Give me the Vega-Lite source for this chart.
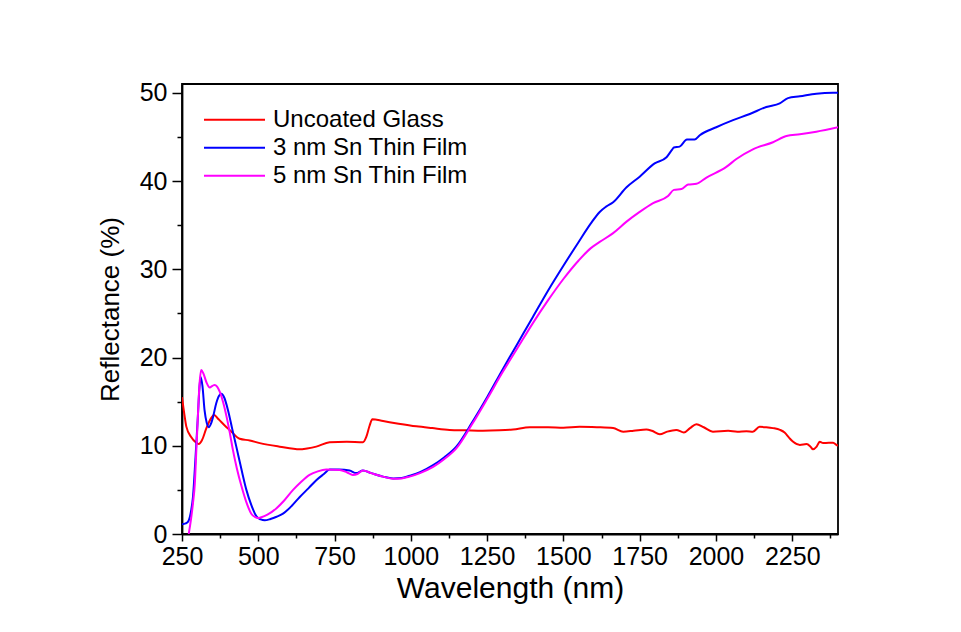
{
  "$schema": "https://vega.github.io/schema/vega-lite/v6.json",
  "autosize": "none",
  "width": 656,
  "height": 450,
  "padding": {"left": 182, "top": 84, "right": 123, "bottom": 98},
  "background": "white",
  "config": {
    "font": "Liberation Sans",
    "view": {"stroke": "black", "strokeWidth": 1.8},
    "axis": {
      "domainColor": "black",
      "domainWidth": 1.8,
      "tickColor": "black",
      "tickWidth": 1.5,
      "labelColor": "black",
      "titleColor": "black",
      "labelFont": "Liberation Sans",
      "titleFont": "Liberation Sans",
      "titleFontWeight": "normal",
      "grid": false
    }
  },
  "data": {
    "values": [
      {"series": "Uncoated Glass", "wl": 250, "r": 15.5},
      {"series": "Uncoated Glass", "wl": 258, "r": 13.5},
      {"series": "Uncoated Glass", "wl": 264, "r": 12.2},
      {"series": "Uncoated Glass", "wl": 280, "r": 11.0},
      {"series": "Uncoated Glass", "wl": 295, "r": 10.4},
      {"series": "Uncoated Glass", "wl": 305, "r": 10.2},
      {"series": "Uncoated Glass", "wl": 315, "r": 10.6},
      {"series": "Uncoated Glass", "wl": 330, "r": 12.0},
      {"series": "Uncoated Glass", "wl": 345, "r": 13.1},
      {"series": "Uncoated Glass", "wl": 355, "r": 13.5},
      {"series": "Uncoated Glass", "wl": 370, "r": 13.0},
      {"series": "Uncoated Glass", "wl": 390, "r": 12.3},
      {"series": "Uncoated Glass", "wl": 406, "r": 11.8},
      {"series": "Uncoated Glass", "wl": 439, "r": 10.8},
      {"series": "Uncoated Glass", "wl": 472, "r": 10.6},
      {"series": "Uncoated Glass", "wl": 505, "r": 10.3},
      {"series": "Uncoated Glass", "wl": 570, "r": 9.9},
      {"series": "Uncoated Glass", "wl": 636, "r": 9.6},
      {"series": "Uncoated Glass", "wl": 660, "r": 9.7},
      {"series": "Uncoated Glass", "wl": 690, "r": 9.9},
      {"series": "Uncoated Glass", "wl": 734, "r": 10.4},
      {"series": "Uncoated Glass", "wl": 790, "r": 10.45},
      {"series": "Uncoated Glass", "wl": 843, "r": 10.4},
      {"series": "Uncoated Glass", "wl": 854, "r": 11.0},
      {"series": "Uncoated Glass", "wl": 865, "r": 12.3},
      {"series": "Uncoated Glass", "wl": 874, "r": 13.0},
      {"series": "Uncoated Glass", "wl": 909, "r": 12.8},
      {"series": "Uncoated Glass", "wl": 960, "r": 12.5},
      {"series": "Uncoated Glass", "wl": 1018, "r": 12.2},
      {"series": "Uncoated Glass", "wl": 1070, "r": 12.0},
      {"series": "Uncoated Glass", "wl": 1127, "r": 11.8},
      {"series": "Uncoated Glass", "wl": 1180, "r": 11.75},
      {"series": "Uncoated Glass", "wl": 1236, "r": 11.7},
      {"series": "Uncoated Glass", "wl": 1290, "r": 11.75},
      {"series": "Uncoated Glass", "wl": 1335, "r": 11.85},
      {"series": "Uncoated Glass", "wl": 1390, "r": 12.1},
      {"series": "Uncoated Glass", "wl": 1450, "r": 12.1},
      {"series": "Uncoated Glass", "wl": 1500, "r": 12.05},
      {"series": "Uncoated Glass", "wl": 1553, "r": 12.15},
      {"series": "Uncoated Glass", "wl": 1610, "r": 12.1},
      {"series": "Uncoated Glass", "wl": 1663, "r": 12.0},
      {"series": "Uncoated Glass", "wl": 1696, "r": 11.6},
      {"series": "Uncoated Glass", "wl": 1730, "r": 11.7},
      {"series": "Uncoated Glass", "wl": 1772, "r": 11.85},
      {"series": "Uncoated Glass", "wl": 1790, "r": 11.7},
      {"series": "Uncoated Glass", "wl": 1816, "r": 11.3},
      {"series": "Uncoated Glass", "wl": 1840, "r": 11.6},
      {"series": "Uncoated Glass", "wl": 1870, "r": 11.8},
      {"series": "Uncoated Glass", "wl": 1895, "r": 11.5},
      {"series": "Uncoated Glass", "wl": 1915, "r": 12.0},
      {"series": "Uncoated Glass", "wl": 1936, "r": 12.45},
      {"series": "Uncoated Glass", "wl": 1960, "r": 12.1},
      {"series": "Uncoated Glass", "wl": 1990, "r": 11.6},
      {"series": "Uncoated Glass", "wl": 2040, "r": 11.7},
      {"series": "Uncoated Glass", "wl": 2070, "r": 11.6},
      {"series": "Uncoated Glass", "wl": 2100, "r": 11.65},
      {"series": "Uncoated Glass", "wl": 2121, "r": 11.6},
      {"series": "Uncoated Glass", "wl": 2143, "r": 12.15},
      {"series": "Uncoated Glass", "wl": 2165, "r": 12.1},
      {"series": "Uncoated Glass", "wl": 2187, "r": 12.0},
      {"series": "Uncoated Glass", "wl": 2210, "r": 11.8},
      {"series": "Uncoated Glass", "wl": 2225, "r": 11.5},
      {"series": "Uncoated Glass", "wl": 2240, "r": 10.9},
      {"series": "Uncoated Glass", "wl": 2253, "r": 10.45},
      {"series": "Uncoated Glass", "wl": 2275, "r": 10.1},
      {"series": "Uncoated Glass", "wl": 2297, "r": 10.2},
      {"series": "Uncoated Glass", "wl": 2310, "r": 9.9},
      {"series": "Uncoated Glass", "wl": 2318, "r": 9.6},
      {"series": "Uncoated Glass", "wl": 2330, "r": 9.9},
      {"series": "Uncoated Glass", "wl": 2340, "r": 10.45},
      {"series": "Uncoated Glass", "wl": 2351, "r": 10.3},
      {"series": "Uncoated Glass", "wl": 2370, "r": 10.35},
      {"series": "Uncoated Glass", "wl": 2384, "r": 10.35},
      {"series": "Uncoated Glass", "wl": 2395, "r": 10.1},
      {"series": "Uncoated Glass", "wl": 2400, "r": 10.0},

      {"series": "3 nm Sn Thin Film", "wl": 250, "r": 1.1},
      {"series": "3 nm Sn Thin Film", "wl": 262, "r": 1.2},
      {"series": "3 nm Sn Thin Film", "wl": 270, "r": 1.4},
      {"series": "3 nm Sn Thin Film", "wl": 278, "r": 2.3},
      {"series": "3 nm Sn Thin Film", "wl": 286, "r": 4.2},
      {"series": "3 nm Sn Thin Film", "wl": 294, "r": 8.5},
      {"series": "3 nm Sn Thin Film", "wl": 302, "r": 13.3},
      {"series": "3 nm Sn Thin Film", "wl": 307, "r": 16.5},
      {"series": "3 nm Sn Thin Film", "wl": 311, "r": 17.8},
      {"series": "3 nm Sn Thin Film", "wl": 317, "r": 16.8},
      {"series": "3 nm Sn Thin Film", "wl": 324, "r": 14.0},
      {"series": "3 nm Sn Thin Film", "wl": 331, "r": 12.6},
      {"series": "3 nm Sn Thin Film", "wl": 338, "r": 12.1},
      {"series": "3 nm Sn Thin Film", "wl": 345, "r": 12.5},
      {"series": "3 nm Sn Thin Film", "wl": 352, "r": 13.3},
      {"series": "3 nm Sn Thin Film", "wl": 362, "r": 14.8},
      {"series": "3 nm Sn Thin Film", "wl": 372, "r": 15.7},
      {"series": "3 nm Sn Thin Film", "wl": 379, "r": 15.9},
      {"series": "3 nm Sn Thin Film", "wl": 388, "r": 15.5},
      {"series": "3 nm Sn Thin Film", "wl": 401, "r": 14.0},
      {"series": "3 nm Sn Thin Film", "wl": 414, "r": 12.0},
      {"series": "3 nm Sn Thin Film", "wl": 428, "r": 9.9},
      {"series": "3 nm Sn Thin Film", "wl": 445, "r": 7.3},
      {"series": "3 nm Sn Thin Film", "wl": 461, "r": 5.0},
      {"series": "3 nm Sn Thin Film", "wl": 477, "r": 3.3},
      {"series": "3 nm Sn Thin Film", "wl": 494, "r": 2.0},
      {"series": "3 nm Sn Thin Film", "wl": 508, "r": 1.65},
      {"series": "3 nm Sn Thin Film", "wl": 521, "r": 1.55},
      {"series": "3 nm Sn Thin Film", "wl": 540, "r": 1.7},
      {"series": "3 nm Sn Thin Film", "wl": 560, "r": 1.95},
      {"series": "3 nm Sn Thin Film", "wl": 581, "r": 2.3},
      {"series": "3 nm Sn Thin Film", "wl": 610, "r": 3.2},
      {"series": "3 nm Sn Thin Film", "wl": 636, "r": 4.2},
      {"series": "3 nm Sn Thin Film", "wl": 665, "r": 5.2},
      {"series": "3 nm Sn Thin Film", "wl": 690, "r": 6.1},
      {"series": "3 nm Sn Thin Film", "wl": 715, "r": 6.8},
      {"series": "3 nm Sn Thin Film", "wl": 734, "r": 7.3},
      {"series": "3 nm Sn Thin Film", "wl": 765, "r": 7.3},
      {"series": "3 nm Sn Thin Film", "wl": 799, "r": 7.2},
      {"series": "3 nm Sn Thin Film", "wl": 821, "r": 6.9},
      {"series": "3 nm Sn Thin Film", "wl": 843, "r": 7.2},
      {"series": "3 nm Sn Thin Film", "wl": 870, "r": 6.9},
      {"series": "3 nm Sn Thin Film", "wl": 909, "r": 6.5},
      {"series": "3 nm Sn Thin Film", "wl": 942, "r": 6.3},
      {"series": "3 nm Sn Thin Film", "wl": 970, "r": 6.35},
      {"series": "3 nm Sn Thin Film", "wl": 996, "r": 6.6},
      {"series": "3 nm Sn Thin Film", "wl": 1030, "r": 7.0},
      {"series": "3 nm Sn Thin Film", "wl": 1073, "r": 7.8},
      {"series": "3 nm Sn Thin Film", "wl": 1110, "r": 8.7},
      {"series": "3 nm Sn Thin Film", "wl": 1149, "r": 9.9},
      {"series": "3 nm Sn Thin Film", "wl": 1200, "r": 12.6},
      {"series": "3 nm Sn Thin Film", "wl": 1250, "r": 15.5},
      {"series": "3 nm Sn Thin Film", "wl": 1300, "r": 18.6},
      {"series": "3 nm Sn Thin Film", "wl": 1350, "r": 21.6},
      {"series": "3 nm Sn Thin Film", "wl": 1400, "r": 24.6},
      {"series": "3 nm Sn Thin Film", "wl": 1450, "r": 27.6},
      {"series": "3 nm Sn Thin Film", "wl": 1500, "r": 30.4},
      {"series": "3 nm Sn Thin Film", "wl": 1550, "r": 33.1},
      {"series": "3 nm Sn Thin Film", "wl": 1590, "r": 35.2},
      {"series": "3 nm Sn Thin Film", "wl": 1619, "r": 36.5},
      {"series": "3 nm Sn Thin Film", "wl": 1640, "r": 37.1},
      {"series": "3 nm Sn Thin Film", "wl": 1663, "r": 37.6},
      {"series": "3 nm Sn Thin Film", "wl": 1707, "r": 39.3},
      {"series": "3 nm Sn Thin Film", "wl": 1750, "r": 40.5},
      {"series": "3 nm Sn Thin Film", "wl": 1799, "r": 42.0},
      {"series": "3 nm Sn Thin Film", "wl": 1838, "r": 42.7},
      {"series": "3 nm Sn Thin Film", "wl": 1855, "r": 43.5},
      {"series": "3 nm Sn Thin Film", "wl": 1862, "r": 43.8},
      {"series": "3 nm Sn Thin Film", "wl": 1881, "r": 43.9},
      {"series": "3 nm Sn Thin Film", "wl": 1905, "r": 44.7},
      {"series": "3 nm Sn Thin Film", "wl": 1930, "r": 44.7},
      {"series": "3 nm Sn Thin Film", "wl": 1947, "r": 45.2},
      {"series": "3 nm Sn Thin Film", "wl": 2001, "r": 46.1},
      {"series": "3 nm Sn Thin Film", "wl": 2056, "r": 46.9},
      {"series": "3 nm Sn Thin Film", "wl": 2111, "r": 47.6},
      {"series": "3 nm Sn Thin Film", "wl": 2165, "r": 48.4},
      {"series": "3 nm Sn Thin Film", "wl": 2209, "r": 48.8},
      {"series": "3 nm Sn Thin Film", "wl": 2236, "r": 49.4},
      {"series": "3 nm Sn Thin Film", "wl": 2275, "r": 49.6},
      {"series": "3 nm Sn Thin Film", "wl": 2329, "r": 49.9},
      {"series": "3 nm Sn Thin Film", "wl": 2384, "r": 50.0},
      {"series": "3 nm Sn Thin Film", "wl": 2400, "r": 50.0},

      {"series": "5 nm Sn Thin Film", "wl": 272, "r": 0.0},
      {"series": "5 nm Sn Thin Film", "wl": 280, "r": 1.8},
      {"series": "5 nm Sn Thin Film", "wl": 286, "r": 3.5},
      {"series": "5 nm Sn Thin Film", "wl": 292, "r": 5.7},
      {"series": "5 nm Sn Thin Film", "wl": 297, "r": 9.5},
      {"series": "5 nm Sn Thin Film", "wl": 302, "r": 13.3},
      {"series": "5 nm Sn Thin Film", "wl": 307, "r": 16.8},
      {"series": "5 nm Sn Thin Film", "wl": 313, "r": 18.6},
      {"series": "5 nm Sn Thin Film", "wl": 320, "r": 18.2},
      {"series": "5 nm Sn Thin Film", "wl": 330, "r": 17.2},
      {"series": "5 nm Sn Thin Film", "wl": 341, "r": 16.6},
      {"series": "5 nm Sn Thin Film", "wl": 350, "r": 16.8},
      {"series": "5 nm Sn Thin Film", "wl": 357, "r": 16.9},
      {"series": "5 nm Sn Thin Film", "wl": 365, "r": 16.7},
      {"series": "5 nm Sn Thin Film", "wl": 374, "r": 16.1},
      {"series": "5 nm Sn Thin Film", "wl": 385, "r": 14.9},
      {"series": "5 nm Sn Thin Film", "wl": 396, "r": 13.3},
      {"series": "5 nm Sn Thin Film", "wl": 407, "r": 11.4},
      {"series": "5 nm Sn Thin Film", "wl": 417, "r": 9.5},
      {"series": "5 nm Sn Thin Film", "wl": 430, "r": 7.4},
      {"series": "5 nm Sn Thin Film", "wl": 445, "r": 5.4},
      {"series": "5 nm Sn Thin Film", "wl": 460, "r": 3.7},
      {"series": "5 nm Sn Thin Film", "wl": 477, "r": 2.3},
      {"series": "5 nm Sn Thin Film", "wl": 490, "r": 1.9},
      {"series": "5 nm Sn Thin Film", "wl": 499, "r": 1.8},
      {"series": "5 nm Sn Thin Film", "wl": 510, "r": 1.9},
      {"series": "5 nm Sn Thin Film", "wl": 530, "r": 2.2},
      {"series": "5 nm Sn Thin Film", "wl": 559, "r": 2.9},
      {"series": "5 nm Sn Thin Film", "wl": 585, "r": 3.8},
      {"series": "5 nm Sn Thin Film", "wl": 614, "r": 5.0},
      {"series": "5 nm Sn Thin Film", "wl": 640, "r": 5.9},
      {"series": "5 nm Sn Thin Film", "wl": 668, "r": 6.7},
      {"series": "5 nm Sn Thin Film", "wl": 695, "r": 7.1},
      {"series": "5 nm Sn Thin Film", "wl": 723, "r": 7.3},
      {"series": "5 nm Sn Thin Film", "wl": 767, "r": 7.25},
      {"series": "5 nm Sn Thin Film", "wl": 790, "r": 7.0},
      {"series": "5 nm Sn Thin Film", "wl": 810, "r": 6.7},
      {"series": "5 nm Sn Thin Film", "wl": 825, "r": 6.8},
      {"series": "5 nm Sn Thin Film", "wl": 843, "r": 7.2},
      {"series": "5 nm Sn Thin Film", "wl": 870, "r": 6.9},
      {"series": "5 nm Sn Thin Film", "wl": 909, "r": 6.5},
      {"series": "5 nm Sn Thin Film", "wl": 942, "r": 6.25},
      {"series": "5 nm Sn Thin Film", "wl": 970, "r": 6.3},
      {"series": "5 nm Sn Thin Film", "wl": 996, "r": 6.5},
      {"series": "5 nm Sn Thin Film", "wl": 1030, "r": 6.9},
      {"series": "5 nm Sn Thin Film", "wl": 1073, "r": 7.6},
      {"series": "5 nm Sn Thin Film", "wl": 1110, "r": 8.5},
      {"series": "5 nm Sn Thin Film", "wl": 1149, "r": 9.7},
      {"series": "5 nm Sn Thin Film", "wl": 1200, "r": 12.4},
      {"series": "5 nm Sn Thin Film", "wl": 1250, "r": 15.3},
      {"series": "5 nm Sn Thin Film", "wl": 1300, "r": 18.3},
      {"series": "5 nm Sn Thin Film", "wl": 1350, "r": 21.1},
      {"series": "5 nm Sn Thin Film", "wl": 1400, "r": 23.9},
      {"series": "5 nm Sn Thin Film", "wl": 1450, "r": 26.5},
      {"series": "5 nm Sn Thin Film", "wl": 1500, "r": 28.9},
      {"series": "5 nm Sn Thin Film", "wl": 1550, "r": 31.0},
      {"series": "5 nm Sn Thin Film", "wl": 1590, "r": 32.4},
      {"series": "5 nm Sn Thin Film", "wl": 1619, "r": 33.1},
      {"series": "5 nm Sn Thin Film", "wl": 1663, "r": 34.1},
      {"series": "5 nm Sn Thin Film", "wl": 1707, "r": 35.4},
      {"series": "5 nm Sn Thin Film", "wl": 1750, "r": 36.5},
      {"series": "5 nm Sn Thin Film", "wl": 1794, "r": 37.5},
      {"series": "5 nm Sn Thin Film", "wl": 1843, "r": 38.3},
      {"series": "5 nm Sn Thin Film", "wl": 1862, "r": 39.0},
      {"series": "5 nm Sn Thin Film", "wl": 1887, "r": 39.1},
      {"series": "5 nm Sn Thin Film", "wl": 1909, "r": 39.6},
      {"series": "5 nm Sn Thin Film", "wl": 1936, "r": 39.7},
      {"series": "5 nm Sn Thin Film", "wl": 1969, "r": 40.4},
      {"series": "5 nm Sn Thin Film", "wl": 2034, "r": 41.6},
      {"series": "5 nm Sn Thin Film", "wl": 2067, "r": 42.5},
      {"series": "5 nm Sn Thin Film", "wl": 2121, "r": 43.6},
      {"series": "5 nm Sn Thin Film", "wl": 2187, "r": 44.4},
      {"series": "5 nm Sn Thin Film", "wl": 2231, "r": 45.1},
      {"series": "5 nm Sn Thin Film", "wl": 2275, "r": 45.3},
      {"series": "5 nm Sn Thin Film", "wl": 2329, "r": 45.6},
      {"series": "5 nm Sn Thin Film", "wl": 2400, "r": 46.1}
    ]
  },
  "mark": {"type": "line", "strokeWidth": 2, "clip": true, "interpolate": "monotone"},
  "encoding": {
    "x": {
      "field": "wl",
      "type": "quantitative",
      "scale": {"domain": [250, 2400], "nice": false, "zero": false},
      "axis": {
        "title": "Wavelength (nm)",
        "format": "d",
        "titleFontSize": 30,
        "titlePadding": 4,
        "labelFontSize": 25,
        "labelPadding": 3,
        "labelFlush": false,
        "labelOverlap": false,
        "values": [250, 375, 500, 625, 750, 875, 1000, 1125, 1250, 1375, 1500, 1625, 1750, 1875, 2000, 2125, 2250, 2375],
        "labelExpr": "datum.value % 250 === 0 ? datum.label : ''",
        "tickSize": {"condition": {"test": "datum.value % 250 === 0", "value": 7}, "value": 4}
      }
    },
    "y": {
      "field": "r",
      "type": "quantitative",
      "scale": {"domain": [0, 51], "nice": false},
      "axis": {
        "title": "Reflectance (%)",
        "titleFontSize": 26,
        "titlePadding": 16,
        "labelFontSize": 25,
        "labelPadding": 5,
        "labelFlush": false,
        "labelOverlap": false,
        "values": [0, 5, 10, 15, 20, 25, 30, 35, 40, 45, 50],
        "labelExpr": "datum.value % 10 === 0 ? datum.label : ''",
        "tickSize": {"condition": {"test": "datum.value % 10 === 0", "value": 10}, "value": 5}
      }
    },
    "color": {
      "field": "series",
      "type": "nominal",
      "scale": {
        "domain": ["Uncoated Glass", "3 nm Sn Thin Film", "5 nm Sn Thin Film"],
        "range": ["#ff0000", "#0000ff", "#ff00ff"]
      },
      "legend": {
        "title": null,
        "orient": "none",
        "legendX": 21,
        "legendY": 22,
        "clipHeight": 27.5,
        "symbolType": "stroke",
        "symbolSize": 3721,
        "symbolStrokeWidth": 2,
        "labelFontSize": 24,
        "labelFont": "Liberation Sans",
        "labelColor": "black",
        "labelLimit": 0,
        "labelOffset": 7,
        "rowPadding": 0
      }
    }
  }
}
